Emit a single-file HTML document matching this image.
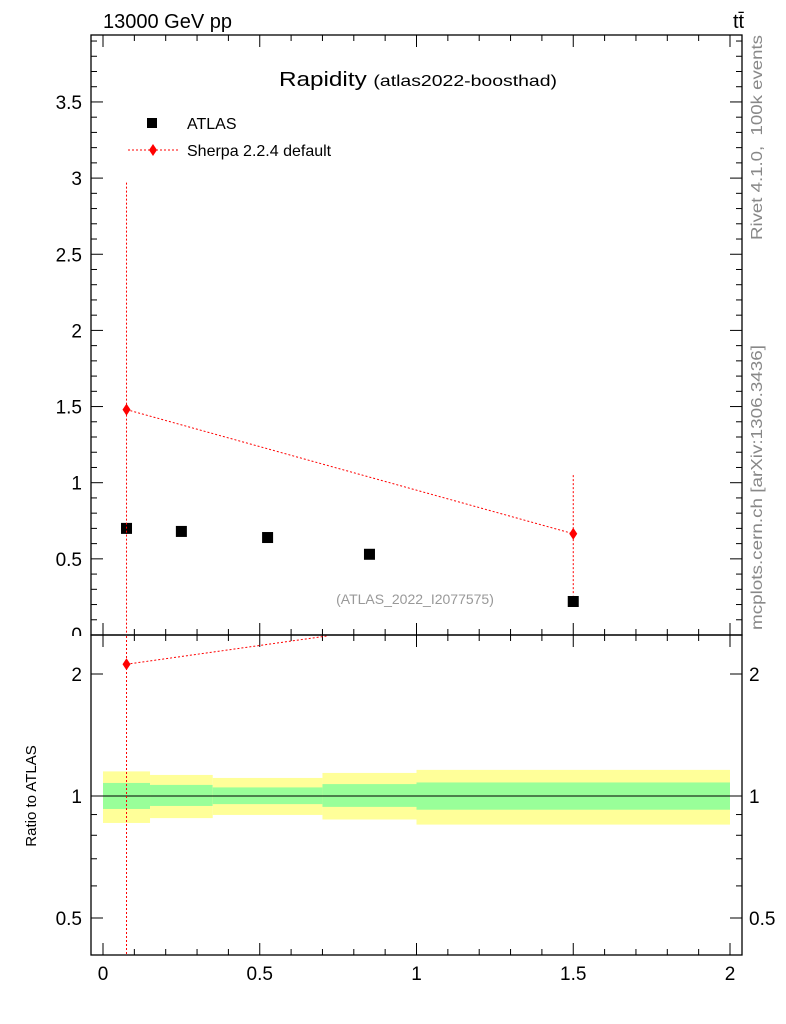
<!DOCTYPE html>
<html><head><meta charset="utf-8"><style>
body{margin:0;background:#fff;}
svg{display:block;font-family:"Liberation Sans",sans-serif;}
</style></head><body>
<svg id="c" width="786" height="1024" xmlns="http://www.w3.org/2000/svg">
<text x="103" y="28" font-size="20">13000 GeV pp</text>
<text x="733" y="28" font-size="20">tt̄</text>
<text x="279" y="86" font-size="20" textLength="278" lengthAdjust="spacingAndGlyphs">Rapidity <tspan font-size="16">(atlas2022-boosthad)</tspan></text>
<text x="415" y="604" font-size="14" fill="#999" text-anchor="middle">(ATLAS_2022_I2077575)</text>
<text transform="translate(762,240) rotate(-90)" font-size="16" fill="#888" textLength="205" lengthAdjust="spacingAndGlyphs" xml:space="preserve">Rivet 4.1.0,  100k events</text>
<text transform="translate(762,630) rotate(-90)" font-size="16" fill="#888" textLength="285" lengthAdjust="spacingAndGlyphs">mcplots.cern.ch [arXiv:1306.3436]</text>
<text transform="translate(36,796) rotate(-90)" font-size="15" text-anchor="middle">Ratio to ATLAS</text>
<g id="bands"></g><g id="ticks"></g><g id="marks"></g>
<rect x="40" y="636" width="50" height="10" fill="#fff"/>
<rect x="91" y="35" width="651" height="600" fill="none" stroke="#000" stroke-width="1.3"/>
<rect x="91" y="635" width="651" height="320" fill="none" stroke="#000" stroke-width="1.3"/>
<g>
<rect x="147" y="118" width="10" height="10" fill="#000"/>
<text x="187" y="129" font-size="16">ATLAS</text>
<line x1="128" y1="150" x2="178" y2="150" stroke="red" stroke-dasharray="2,2"/>
<path d="M153 144 L157 150 L153 156 L149 150Z" fill="red"/>
<text x="187" y="156" font-size="16">Sherpa 2.2.4 default</text>
</g>
</svg>
<script>
const atlasX=[0.075,0.25,0.525,0.85,1.5];
const atlasY=[0.70,0.68,0.64,0.53,0.22];
const sherpaX=[0.075,1.5];
const sherpaY=[1.48,0.665];
const sherpaUp=[2.97,1.05];
const sherpaDn=[-1,0.26];
const binEdges=[0,0.15,0.35,0.7,1.0,2.0];
const yellowHi=[1.15,1.127,1.108,1.14,1.16];
const yellowLo=[0.858,0.882,0.898,0.875,0.85];
const greenHi=[1.077,1.065,1.05,1.07,1.08];
const greenLo=[0.929,0.945,0.955,0.94,0.925];
const xTicks=[0,0.5,1,1.5,2];
const yTicks=[0.5,1,1.5,2,2.5,3,3.5];
const rTicks=[0.5,1,2];
const NS="http://www.w3.org/2000/svg";
const X=v=>103+v*313.5, Y=v=>635-v*152.3, R=v=>796-176*Math.log(v);
function mk(p,t,a){const e=document.createElementNS(NS,t);for(const k in a)e.setAttribute(k,a[k]);document.getElementById(p).appendChild(e);return e;}
for(let i=0;i<yellowHi.length;i++){
 const x0=X(binEdges[i]),w=X(binEdges[i+1])-x0;
 let e=mk('bands','rect',{x:x0,y:R(yellowHi[i]),width:w,height:R(yellowLo[i])-R(yellowHi[i]),fill:'#ffff99'});
 
 
 e=mk('bands','rect',{x:x0,y:R(greenHi[i]),width:w,height:R(greenLo[i])-R(greenHi[i]),fill:'#99ff99'});
 
 
}
let l=mk('bands','line',{x1:X(0),x2:X(2),y1:R(1),y2:R(1),stroke:'#000'});


for(let i=0;i<=20;i++){const v=i/10,big=i%5==0,h=big?12:6;
 for(const [y0,d] of [[635,-1],[35,1],[955,-1],[635,1]]){const t=mk('ticks','line',{x1:X(v),x2:X(v),y1:y0,y2:y0+d*h,stroke:'#000'});}}
xTicks.forEach(v=>{const t=mk('ticks','text',{x:X(v),y:980,'font-size':19,'text-anchor':'middle'});t.textContent=String(v);});
for(let i=1;i<=39;i++){const v=i/10,big=i%5==0,h=big?12:6;if(Y(v)<36)continue;
 for(const [x0,d] of [[91,1],[742,-1]]){const t=mk('ticks','line',{x1:x0,x2:x0+d*h,y1:Y(v),y2:Y(v),stroke:'#000'});}}
yTicks.forEach(v=>{const t=mk('ticks','text',{x:82,y:Y(v)+7,'font-size':19,'text-anchor':'end'});t.textContent=String(v);});
let z=mk('ticks','text',{x:82,y:641,'font-size':19,'text-anchor':'end'});z.textContent='0';
[0.4,0.5,0.6,0.7,0.8,0.9,1,2].forEach(v=>{const big=rTicks.includes(v),h=big?12:6;if(R(v)>955)return;
 for(const [x0,d] of [[91,1],[742,-1]]){const t=mk('ticks','line',{x1:x0,x2:x0+d*h,y1:R(v),y2:R(v),stroke:'#000'});}});
rTicks.forEach(v=>{for(const [x0,a] of [[82,'end'],[749,'start']]){const t=mk('ticks','text',{x:x0,y:R(v)+7,'font-size':19,'text-anchor':a});t.textContent=String(v);}});
atlasX.forEach((x,i)=>{const e=mk('marks','rect',{x:X(x)-5.5,y:Y(atlasY[i])-5.5,width:11,height:11,fill:'#000'});});
const cl=(y,a,b)=>Math.max(a,Math.min(b,y));
let pl=mk('marks','polyline',{points:sherpaX.map((x,i)=>X(x)+','+Y(sherpaY[i])).join(' '),fill:'none',stroke:'red','stroke-dasharray':'2,2'});

sherpaX.forEach((x,i)=>{
 const e=mk('marks','line',{x1:X(x),x2:X(x),y1:cl(Y(sherpaUp[i]),35,635),y2:cl(Y(sherpaDn[i]),35,635),stroke:'red','stroke-dasharray':'2,2'});
 
 const m=mk('marks','path',{d:`M${X(x)} ${Y(sherpaY[i])-6}l4 6l-4 6l-4-6z`,fill:'red'});
 
});
const rat=sherpaY.map((v,i)=>v/atlasY[atlasX.indexOf(sherpaX[i])]);
const x1=X(sherpaX[0]),y1=R(rat[0]),x2=X(sherpaX[1]),y2=R(rat[1]);
const tc=(636-y1)/(y2-y1);
let rl=mk('marks','line',{x1:x1,y1:y1,x2:x1+(x2-x1)*tc,y2:636,stroke:'red','stroke-dasharray':'2,2'});

let re=mk('marks','line',{x1:x1,x2:x1,y1:636,y2:954,stroke:'red','stroke-dasharray':'2,2'});

let rm=mk('marks','path',{d:`M${x1} ${y1-6}l4 6l-4 6l-4-6z`,fill:'red'});

</script>
</body></html>
